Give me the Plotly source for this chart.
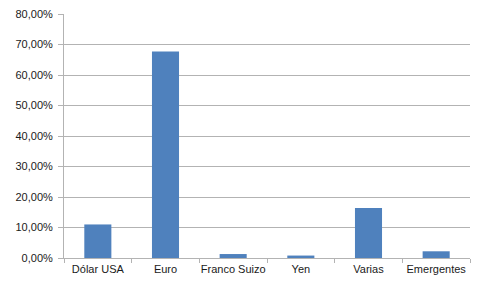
import plotly.graph_objects as go

categories = ["Dólar USA", "Euro", "Franco Suizo", "Yen", "Varias", "Emergentes"]
values = [0.110, 0.677, 0.013, 0.008, 0.164, 0.022]
y_ticks = [0, 0.1, 0.2, 0.3, 0.4, 0.5, 0.6, 0.7, 0.8]

fig = go.Figure(go.Bar(x=categories, y=values, marker=dict(color="#4f81bd", line=dict(width=0))))

# page body has an 8px margin, so the figure is sized/offset to compensate
fig.update_layout(
    width=475, height=281,
    margin=dict(l=56, r=13, t=6, b=31, autoexpand=False),
    paper_bgcolor="white", plot_bgcolor="white",
    bargap=0.6,
    separators=",.",
    showlegend=False,
    font=dict(family="Liberation Sans", size=11, color="#1a1a1a"),
)
fig.update_yaxes(
    range=[0, 0.8], tickvals=y_ticks, tickformat=".2%",
    showgrid=True, gridcolor="#b3b3b3", gridwidth=1,
    showline=True, linecolor="#b3b3b3", linewidth=1,
    ticks="outside", ticklen=5, tickcolor="#b3b3b3",
    zeroline=False, fixedrange=True, automargin=False,
    ticklabeloverflow="allow", ticklabelstandoff=3,
)
fig.update_xaxes(
    showline=True, linecolor="#b3b3b3", linewidth=1,
    ticks="outside", ticklen=4, tickcolor="#b3b3b3", tickson="boundaries",
    showgrid=False, fixedrange=True, tickangle=0, automargin=False,
    ticklabeloverflow="allow", ticklabelstandoff=1,
)
fig.write_html("out.html")
